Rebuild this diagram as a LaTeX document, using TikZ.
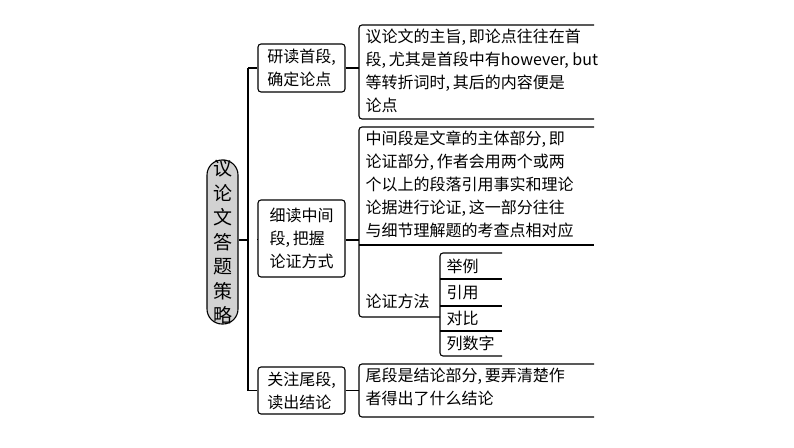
\documentclass[tikz,border=0pt]{standalone}
\usepackage{fontspec}
\setmainfont{Noto Sans CJK SC}
\newcommand{\cm}{,\hspace{3pt}}
\begin{document}
\begin{tikzpicture}[x=1pt,y=-1pt,line width=1.1pt,
  txt/.style={font=\fontsize{16}{23}\selectfont,align=left,inner sep=0pt,anchor=north west},
  lvl/.style={draw,rounded corners=3pt,font=\fontsize{16}{23}\selectfont,align=left,minimum width=87pt,inner sep=2pt}]
\useasboundingbox (0,0) rectangle (794,447);
\node[draw,fill=gray!35,rounded corners=15pt,minimum width=31pt,minimum height=160pt,inner sep=0pt,font=\fontsize{19}{24.5}\selectfont,align=center] (root) at (222.5,242) {议\\论\\文\\答\\题\\策\\略};
\node[lvl,minimum height=48pt] (b1) at (301.5,68) {研读首段,\\确定论点};
\node[lvl,minimum height=77pt] (b2) at (301.5,238.5) {细读中间\\段\cm 把握\\论证方式};
\node[lvl,minimum height=47pt] (b3) at (301.5,390.5) {关注尾段,\\读出结论};
\coordinate (t1) at (248,68);
\coordinate (t2) at (248,240);
\coordinate (t3) at (248,390.5);
\draw (root.east|-t2) -- (t2);
\draw (t1) -- (t3);
\draw (t1) -- (b1.west); \draw (t2-|b1.west) -- (b2.west); \draw (t3) -- (b3.west);
% bracket a
\draw[rounded corners=3pt] (594,25) -- (359,25) -- (359,119) -- (594,119);
\draw (b1.east) -- (359,68);
\node[txt] (ta) at (365,28) {议论文的主旨\cm 即论点往往在首\\段\cm 尤其是首段中有however, but\\等转折词时\cm 其后的内容便是\\论点};
% bracket b
\draw[rounded corners=3pt] (594,127) -- (359,127) -- (359,317) -- (440,317);
\draw (359,245) -- (594,245);
\draw (b2.east|-t2) -- (359,240);
\node[txt] (tb) at (365,130) {中间段是文章的主体部分\cm 即\\论证部分\cm 作者会用两个或两\\个以上的段落引用事实和理论\\论据进行论证\cm 这一部分往往\\与细节理解题的考查点相对应};
\node[txt,anchor=west] (fm) at (365,301) {论证方法};
% sub bracket
\draw[rounded corners=3pt] (502,253) -- (440,253) -- (440,356) -- (502,356);
\foreach \y in {279,306,331} \draw (440,\y) -- (502,\y);
\node[txt,anchor=west] (m1) at (446,266) {举例};
\node[txt,anchor=west] (m2) at (446,292.5) {引用};
\node[txt,anchor=west] (m3) at (446,318.5) {对比};
\node[txt,anchor=west] (m4) at (446,343.5) {列数字};
% bracket c
\draw[rounded corners=3pt] (594,364) -- (359,364) -- (359,417) -- (594,417);
\draw (b3.east) -- (359,390.5);
\node[txt] (tc) at (365,367) {尾段是结论部分\cm 要弄清楚作\\者得出了什么结论};
\end{tikzpicture}
\end{document}
